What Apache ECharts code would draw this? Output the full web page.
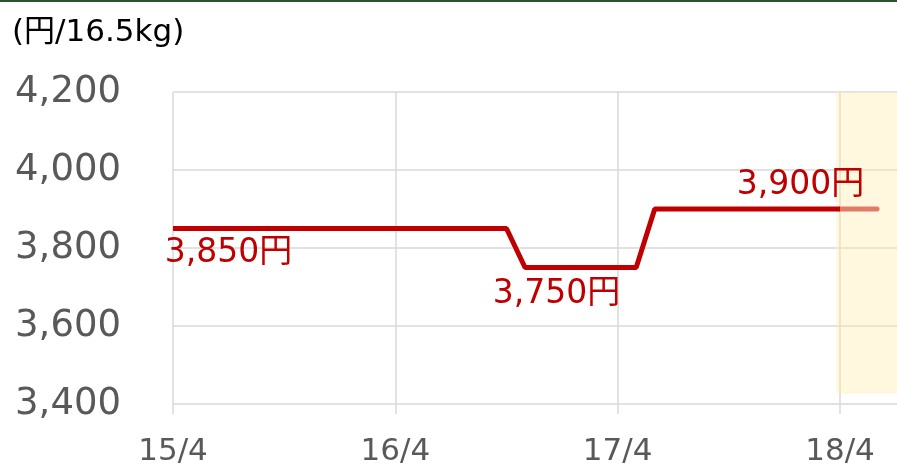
<!DOCTYPE html>
<html>
<head>
<meta charset="utf-8">
<script src="https://cdn.jsdelivr.net/npm/echarts@6/dist/echarts.min.js"></script>
<style>
  html, body { margin: 0; padding: 0; background: #fff; overflow: hidden; }
  #chart { width: 897px; height: 463px; border-top: 2px solid #2f5230; }
</style>
</head>
<body>
<div id="chart"></div>
<script>
// months counted from 15/4
const monthIdx = [0, 18, 19, 25, 26, 36];
const prices = [3850, 3850, 3750, 3750, 3900, 3900];
const forecastIdx = [36, 38];
const forecastPrices = [3900, 3900];
const tickLabels = { 0: "15/4", 12: "16/4", 24: "17/4", 36: "18/4" };

const fontFam = "'DejaVu Sans', 'Noto Sans CJK JP', sans-serif";

function priceLabel(text, pos) {
  return {
    show: true,
    position: pos,
    align: "center",
    verticalAlign: "middle",
    formatter: text
  };
}

let mainData = monthIdx.map((m, i) => [m, prices[i]]);
mainData[0] = { value: mainData[0], label: priceLabel("3,850円", [56, 25]) };
mainData[2] = { value: mainData[2], label: priceLabel("3,750円", [32, 27]) };
mainData[5] = { value: mainData[5], label: priceLabel("3,900円", [-39, -23]) };

const myChart = echarts.init(document.getElementById("chart"));
myChart.setOption({
  animation: false,
  textStyle: { fontFamily: fontFam },
  title: {
    text: "(円/16.5kg)",
    left: 7,
    top: 10,
    textStyle: { fontSize: 31, fontWeight: "normal", color: "#000", fontFamily: fontFam }
  },
  grid: { left: 173, width: 730, top: 90, bottom: 61, outerBoundsMode: "none" },
  xAxis: {
    type: "value",
    min: 0,
    max: 39.4,
    interval: 12,
    axisLine: { show: false },
    axisTick: { show: true, length: 10, lineStyle: { color: "#d9d9d9", width: 1.5 } },
    splitLine: { show: true, lineStyle: { color: "#d9d9d9", width: 1.5 } },
    axisLabel: {
      fontSize: 31,
      color: "#595959",
      margin: 32,
      formatter: v => tickLabels[v] || ""
    }
  },
  yAxis: {
    type: "value",
    min: 3400,
    max: 4200,
    interval: 200,
    axisLine: { show: false },
    axisTick: { show: false },
    splitLine: { lineStyle: { color: "#d9d9d9", width: 1.5 } },
    axisLabel: {
      fontSize: 37,
      color: "#595959",
      margin: 52,
      padding: [10, 0, 0, 0],
      formatter: v => v.toLocaleString("en-US")
    }
  },
  series: [
    {
      type: "line",
      data: mainData,
      symbol: "circle",
      symbolSize: 1,
      itemStyle: { color: "rgba(0,0,0,0)" },
      lineStyle: { color: "#c00000", width: 5 },
      label: { fontSize: 33, color: "#c00000", fontFamily: fontFam },
      markArea: {
        silent: true,
        itemStyle: { color: "rgba(255, 236, 170, 0.38)" },
        data: [[{ xAxis: 35.8, yAxis: 3426 }, { xAxis: 39.4, yAxis: 4200 }]]
      },
      z: 3
    },
    {
      type: "line",
      data: forecastIdx.map((m, i) => [m, forecastPrices[i]]),
      symbol: "none",
      lineStyle: { color: "#e07b68", width: 5, cap: "round" },
      z: 2
    }
  ]
});
</script>
</body>
</html>
